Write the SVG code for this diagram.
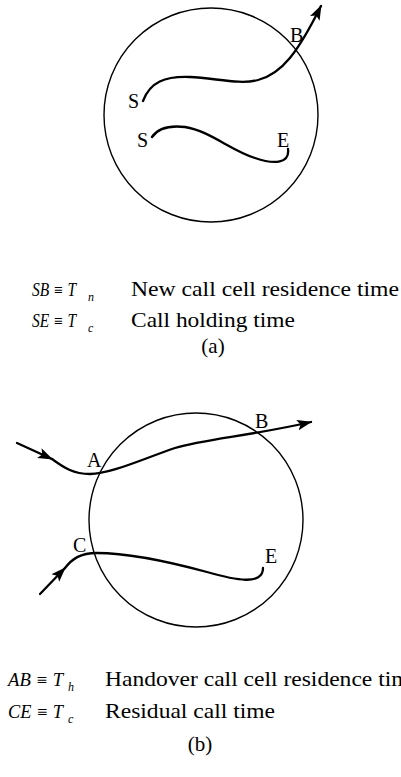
<svg xmlns="http://www.w3.org/2000/svg" width="401" height="777" viewBox="0 0 401 777">
<defs>
<style>
.cell{fill:none;stroke:#000;stroke-width:1.4}
.path{fill:none;stroke:#000;stroke-width:2.3;stroke-linecap:round}
.lbl{font-family:"Liberation Serif","Times New Roman",serif;font-size:20px;fill:#000}
.math{font-family:"Liberation Serif","Times New Roman",serif;font-size:18px;font-style:italic;fill:#000}
.sub{font-family:"Liberation Serif","Times New Roman",serif;font-size:12px;font-style:italic;fill:#000}
.txt{font-family:"Liberation Serif","Times New Roman",serif;font-size:21px;fill:#000}
</style>
<marker id="arr" viewBox="0 0 14 10" refX="13" refY="5" markerWidth="15" markerHeight="11" markerUnits="userSpaceOnUse" orient="auto">
<path d="M0,0 L14,5 L0,10 L3,5 Z" fill="#000"/>
</marker>
</defs>
<rect width="401" height="777" fill="#fff"/>

<g id="cell-a">
<circle class="cell" cx="211" cy="115" r="107"/>
</g>
<g id="labels-a">
<text class="lbl" x="128" y="108">S</text>
<text class="lbl" x="137" y="147">S</text>
<text class="lbl" x="277" y="147">E</text>
<text class="lbl" x="290" y="42">B</text>
</g>
<g id="connectors-a">
<path class="path" d="M143,101 C150,82 165,76 190,77 C215,78 240,85 258,80 C282,74 298,52 321,6" marker-end="url(#arr)"/>
<path class="path" d="M152,137 C158,128 168,125 185,127 C210,131 230,150 255,158 C275,165 290,163 288,149"/>
</g>
<g id="legend-a">
<text class="math" x="32" y="296" textLength="44" lengthAdjust="spacingAndGlyphs">SB ≡ T</text>
<text class="sub" x="88" y="301">n</text>
<text class="txt" x="131" y="296" textLength="268" lengthAdjust="spacingAndGlyphs">New call cell residence time</text>
<text class="math" x="32" y="327" textLength="44" lengthAdjust="spacingAndGlyphs">SE ≡ T</text>
<text class="sub" x="88" y="332">c</text>
<text class="txt" x="131" y="327" textLength="164" lengthAdjust="spacingAndGlyphs">Call holding time</text>
<text class="txt" x="213" y="353" text-anchor="middle">(a)</text>
</g>

<g id="cell-b">
<circle class="cell" cx="196" cy="520" r="107"/>
</g>
<g id="labels-b">
<text class="lbl" x="87" y="467">A</text>
<text class="lbl" x="255" y="428">B</text>
<text class="lbl" x="73" y="552">C</text>
<text class="lbl" x="265" y="563">E</text>
</g>
<g id="connectors-b">
<path class="path" d="M17,443 L52,459" marker-end="url(#arr)"/>
<path class="path" d="M52,459 C62,466 72,474 90,474 C110,474 140,460 175,448 C205,439 250,436 311,422" marker-end="url(#arr)"/>
<path class="path" d="M40,594 L65,568" marker-end="url(#arr)"/>
<path class="path" d="M65,568 C72,559 80,553 97,553 C130,553 170,562 207,572 C235,580 263,586 263,568"/>
</g>
<g id="legend-b">
<text class="math" x="8" y="686" textLength="55" lengthAdjust="spacingAndGlyphs">AB ≡ T</text>
<text class="sub" x="68" y="691">h</text>
<text class="txt" x="105" y="686" textLength="315" lengthAdjust="spacingAndGlyphs">Handover call cell residence time</text>
<text class="math" x="8" y="718" textLength="55" lengthAdjust="spacingAndGlyphs">CE ≡ T</text>
<text class="sub" x="68" y="723">c</text>
<text class="txt" x="105" y="718" textLength="170" lengthAdjust="spacingAndGlyphs">Residual call time</text>
<text class="txt" x="200" y="751" text-anchor="middle">(b)</text>
</g>
</svg>
